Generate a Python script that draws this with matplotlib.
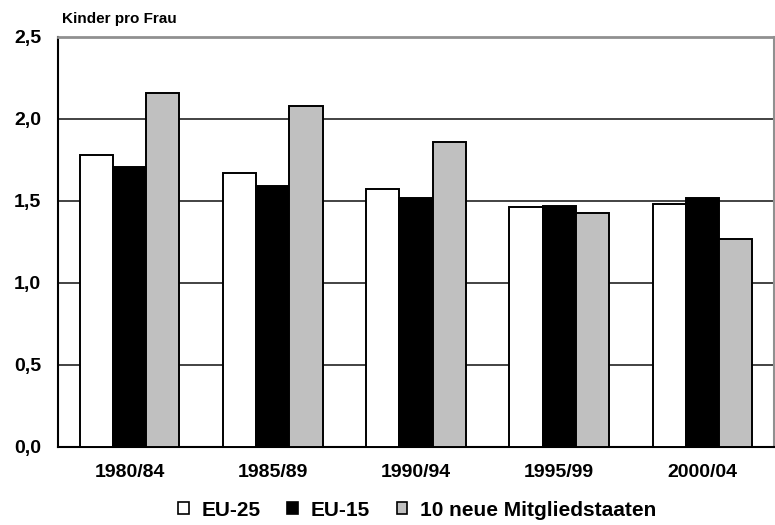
import matplotlib
matplotlib.use("Agg")
import matplotlib.pyplot as plt
import numpy as np
from matplotlib.patches import Patch

categories = ["1980/84", "1985/89", "1990/94", "1995/99", "2000/04"]
eu25 = [1.78, 1.67, 1.575, 1.465, 1.48]
eu15 = [1.71, 1.59, 1.52, 1.467, 1.516]
neue10 = [2.16, 2.08, 1.857, 1.427, 1.27]
series_names = ["EU-25", "EU-15", "10 neue Mitgliedstaaten"]
yticks = [0.0, 0.5, 1.0, 1.5, 2.0, 2.5]
ytick_labels = ["0,0", "0,5", "1,0", "1,5", "2,0", "2,5"]

plt.rcParams['font.family'] = ['Liberation Sans', 'DejaVu Sans']

fig = plt.figure(figsize=(7.75, 5.25), dpi=100)
ax = fig.add_axes([58/775, 78/525, 716/775, 410/525])

x = np.arange(len(categories))
w = 0.232
colors = ["white", "black", "#c0c0c0"]
for i, (vals, c) in enumerate(zip([eu25, eu15, neue10], colors)):
    ax.bar(x + (i - 1) * w, vals, width=w, color=c, edgecolor="black",
           linewidth=1.4, zorder=3)

ax.set_xlim(-0.5, len(categories) - 0.5)
ax.set_ylim(0, 2.5)
ax.set_yticks(yticks)
ax.set_yticklabels(ytick_labels, fontsize=14, fontweight="bold")
ax.set_xticks(x)
ax.set_xticklabels(categories, fontsize=14, fontweight="bold")
ax.tick_params(axis="both", length=0)
ax.tick_params(axis="y", pad=12)
ax.tick_params(axis="x", pad=12)

for yv in yticks[1:-1]:
    ax.axhline(yv, color="#222222", linewidth=1.2, zorder=1)

ax.spines["left"].set_color("black")
ax.spines["left"].set_linewidth(1.5)
ax.spines["bottom"].set_color("black")
ax.spines["bottom"].set_linewidth(1.5)
ax.spines["top"].set_color("#909090")
ax.spines["top"].set_linewidth(2)
ax.spines["right"].set_color("#909090")
ax.spines["right"].set_linewidth(1.5)

fig.text(62/775, 1 - 19/525, "Kinder pro Frau", fontsize=11, fontweight="bold",
         ha="left", va="center")

handles = [Patch(facecolor=c, edgecolor="black", linewidth=1.2) for c in colors]
fig.legend(handles, series_names, loc="center", bbox_to_anchor=(417/775, 1 - 510/525),
           ncol=3, frameon=False, prop={"size": 15, "weight": "bold"},
           handlelength=0.5, handleheight=0.5, handletextpad=0.6, columnspacing=1.3)

fig.savefig("out.png", dpi=100)
